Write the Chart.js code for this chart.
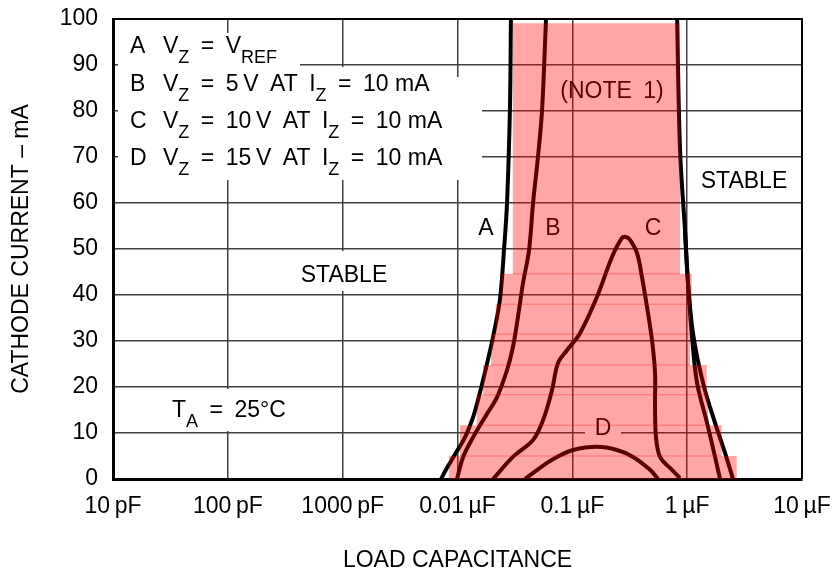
<!DOCTYPE html>
<html>
<head>
<meta charset="utf-8">
<script src="https://cdn.jsdelivr.net/npm/chart.js@4/dist/chart.umd.min.js"></script>
<style>
  html, body { margin: 0; padding: 0; background: #fff; }
  #wrap { width: 832px; height: 574px; }
</style>
</head>
<body>
<div id="wrap"><canvas id="chart" width="832" height="574"></canvas></div>
<script>
// capacitance in uF, cathode current in mA
const tickValues = [1e-5, 1e-4, 1e-3, 0.01, 0.1, 1, 10];
const tickLabels = ['10\u2009pF', '100\u2009pF', '1000\u2009pF', '0.01\u2009\u00b5F', '0.1\u2009\u00b5F', '1\u2009\u00b5F', '10\u2009\u00b5F'];

// curve A (outer boundary)
const aLeftCap = [0.0072, 0.0078, 0.0086, 0.0097, 0.0109, 0.0119, 0.0137, 0.0151, 0.0167, 0.0184, 0.0204, 0.0234, 0.0254, 0.0270, 0.0286, 0.0292];
const aLeftI   = [0, 1.7, 3.5, 5.7, 7.8, 9.6, 13.5, 17.2, 21.5, 25.9, 30.9, 38.9, 49.8, 60.0, 80.2, 100];
const aRightCap = [0.817, 0.867, 0.957, 1.017, 1.124, 1.374, 1.749, 2.136, 2.506];
const aRightI   = [100, 71.5, 54.1, 42.6, 31.7, 20.9, 12.2, 5.7, 0];

// curve B
const bLeftCap = [0.0099, 0.0112, 0.0137, 0.0174, 0.0221, 0.0270, 0.0304, 0.0336, 0.0372, 0.0420, 0.0455, 0.0502, 0.0545, 0.0590];
const bLeftI   = [0, 4.8, 9.1, 13.5, 17.8, 23.7, 28.7, 35.2, 42.6, 49.8, 60, 70, 80.2, 100];
const bRightCap = [0.957, 1.017, 1.102, 1.219, 1.489, 1.749, 1.932];
const bRightI   = [54.1, 42.6, 30.9, 20.9, 12.2, 4.8, 0];

// curve C
const cCap = [0.0204, 0.0304, 0.0455, 0.0556, 0.0665, 0.0750, 0.0899, 0.1167, 0.164, 0.222, 0.271, 0.293, 0.318, 0.366, 0.404, 0.447, 0.494, 0.525, 0.525, 0.535, 0.580, 0.709, 0.867];
const cI   = [0, 4.8, 8.5, 12.8, 19.3, 25.2, 28.0, 31.7, 39.6, 48.3, 52.4, 52.6, 52.0, 49.1, 43.9, 37.4, 30.2, 23.0, 15.7, 9.1, 4.8, 2.4, 0.2];

// curve D
const dCap = [0.0387, 0.0602, 0.0736, 0.1014, 0.164, 0.245, 0.338, 0.475, 0.557];
const dI   = [0, 3.5, 4.8, 6.3, 7.0, 6.3, 4.8, 2.0, 0];

// shaded (NOTE 1) region, one band per row: top current, left and right capacitance
const noteTop   = [99.1, 44.6, 38.0, 31.5, 24.8, 18.3, 11.7, 5.0];
const noteLeft  = [0.0303, 0.0243, 0.0215, 0.0196, 0.0167, 0.0147, 0.0105, 0.0084];
const noteRight = [0.867, 1.096, 1.059, 1.059, 1.480, 1.520, 2.0, 2.70];

const FONT = "'Liberation Sans', Arial, sans-serif";
const OVERLAY = 'rgba(255,0,0,0.35)';
const EN = '\u2002', TH = '\u2009';

const pts = (xs, ys) => xs.map((x, i) => ({ x: x, y: ys[i] }));

// stair outline of the shaded region
const bandBottom = noteTop.map((t, i) => i < noteTop.length - 1 ? noteTop[i + 1] : 0);
const notePoly = [];
noteTop.forEach((t, i) => {
  notePoly.push({ x: noteLeft[i], y: t });
  notePoly.push({ x: noteLeft[i], y: bandBottom[i] });
});
for (let i = noteTop.length - 1; i >= 0; i--) {
  notePoly.push({ x: noteRight[i], y: bandBottom[i] });
  notePoly.push({ x: noteRight[i], y: noteTop[i] });
}

const curve = (data) => ({
  data: data,
  showLine: true,
  borderColor: '#000',
  borderWidth: 4,
  pointRadius: 0,
  tension: 0.35,
  fill: false,
  order: 2
});

// seams where the bands overlap
const seams = noteTop.slice(1).map((y, i) => ({
  data: [{ x: noteLeft[i], y: y }, { x: noteRight[i], y: y }],
  showLine: true,
  borderColor: OVERLAY,
  borderWidth: 1,
  pointRadius: 0,
  fill: false,
  order: 0
}));

const legendRows = [
  ['A', [['V'], ['Z', 1], [EN + '=' + EN + 'V'], ['REF', 1]]],
  ['B', [['V'], ['Z', 1], [EN + '=' + EN + '5' + TH + 'V' + EN + 'AT' + EN + 'I'], ['Z', 1], [EN + '=' + EN + '10 mA']]],
  ['C', [['V'], ['Z', 1], [EN + '=' + EN + '10' + TH + 'V' + EN + 'AT' + EN + 'I'], ['Z', 1], [EN + '=' + EN + '10 mA']]],
  ['D', [['V'], ['Z', 1], [EN + '=' + EN + '15' + TH + 'V' + EN + 'AT' + EN + 'I'], ['Z', 1], [EN + '=' + EN + '10 mA']]]
];

function drawRich(ctx, x, y, parts) {
  parts.forEach(p => {
    ctx.font = p[1] ? '18px ' + FONT : '23px ' + FONT;
    ctx.fillText(p[0], x, y + (p[1] ? 10 : 0));
    x += ctx.measureText(p[0]).width;
  });
}

const notes = {
  id: 'notes',
  beforeDatasetsDraw(chart) {
    const ctx = chart.ctx;
    ctx.save();
    // white backing behind the labels
    ctx.fillStyle = '#fff';
    ctx.fillRect(118, 33, 182, 45);
    ctx.fillRect(118, 67, 339, 113);
    ctx.fillRect(118, 77, 364, 103);
    ctx.fillRect(295, 251, 100, 40);
    ctx.fillRect(160, 389, 145, 42);
    ctx.fillRect(585, 428, 36, 9);

    ctx.fillStyle = '#000';
    ctx.textBaseline = 'alphabetic';
    ctx.textAlign = 'left';
    const base = [53, 91, 128, 165];
    legendRows.forEach((r, i) => {
      ctx.font = '23px ' + FONT;
      ctx.fillText(r[0], 130, base[i]);
      drawRich(ctx, 163, base[i], r[1]);
    });
    drawRich(ctx, 172, 417, [['T'], ['A', 1], [EN + '=' + EN + '25\u00b0C']]);

    ctx.textAlign = 'center';
    ctx.font = '23px ' + FONT;
    ctx.fillText('STABLE', 344, 282);
    ctx.fillText('STABLE', 744, 188);
    ctx.fillText('A', 486, 235);
    ctx.fillText('B', 553, 235);
    ctx.fillText('C', 653, 235);
    ctx.fillText('D', 603, 435);
    ctx.fillText('(NOTE' + EN + '1)', 612, 98);
    ctx.restore();
  },
  afterDraw(chart) {
    const { ctx, chartArea: a } = chart;
    ctx.save();
    ctx.strokeStyle = '#000';
    ctx.lineWidth = 2;
    ctx.beginPath();
    ctx.moveTo(a.left, a.top);
    ctx.lineTo(a.right, a.top);
    ctx.lineTo(a.right, a.bottom);
    ctx.stroke();
    ctx.restore();
  }
};

new Chart(document.getElementById('chart'), {
  type: 'scatter',
  data: {
    datasets: [
      {
        data: notePoly,
        showLine: true,
        borderWidth: 0,
        borderColor: 'rgba(0,0,0,0)',
        backgroundColor: OVERLAY,
        pointRadius: 0,
        tension: 0,
        fill: 'shape',
        order: 1
      },
      ...seams,
      curve(pts(aLeftCap, aLeftI)),
      curve(pts(aRightCap, aRightI)),
      curve(pts(bLeftCap, bLeftI)),
      curve(pts(bRightCap, bRightI)),
      curve(pts(cCap, cI)),
      curve(pts(dCap, dI))
    ]
  },
  options: {
    responsive: false,
    animation: false,
    events: [],
    layout: { padding: { top: 19, right: 30, left: 0, bottom: 0 } },
    plugins: { legend: { display: false }, tooltip: { enabled: false } },
    scales: {
      x: {
        type: 'logarithmic',
        min: 1e-5,
        max: 10,
        afterBuildTicks: s => { s.ticks = tickValues.map(v => ({ value: v })); },
        afterFit: s => { s.height = 95; s.paddingLeft = 0; s.paddingRight = 0; },
        ticks: {
          autoSkip: false,
          maxRotation: 0,
          padding: 14,
          color: '#000',
          font: { family: FONT, size: 23 },
          callback: (v, i) => tickLabels[i]
        },
        grid: { color: '#404040', lineWidth: 1.5, drawTicks: false },
        border: { color: '#000', width: 3 },
        title: {
          display: true,
          text: 'LOAD CAPACITANCE',
          color: '#000',
          font: { family: FONT, size: 23 },
          padding: { top: 0, bottom: 0 }
        }
      },
      y: {
        min: 0,
        max: 100,
        afterFit: s => { s.width = 113; s.paddingTop = 0; s.paddingBottom = 0; },
        ticks: {
          stepSize: 10,
          padding: 15,
          color: '#000',
          font: { family: FONT, size: 23 }
        },
        grid: { color: '#404040', lineWidth: 1.5, drawTicks: false },
        border: { color: '#000', width: 3 },
        title: {
          display: true,
          text: 'CATHODE CURRENT \u2013 mA',
          color: '#000',
          font: { family: FONT, size: 23 },
          padding: { top: 8, bottom: 0 }
        }
      }
    }
  },
  plugins: [notes]
});
</script>
</body>
</html>
